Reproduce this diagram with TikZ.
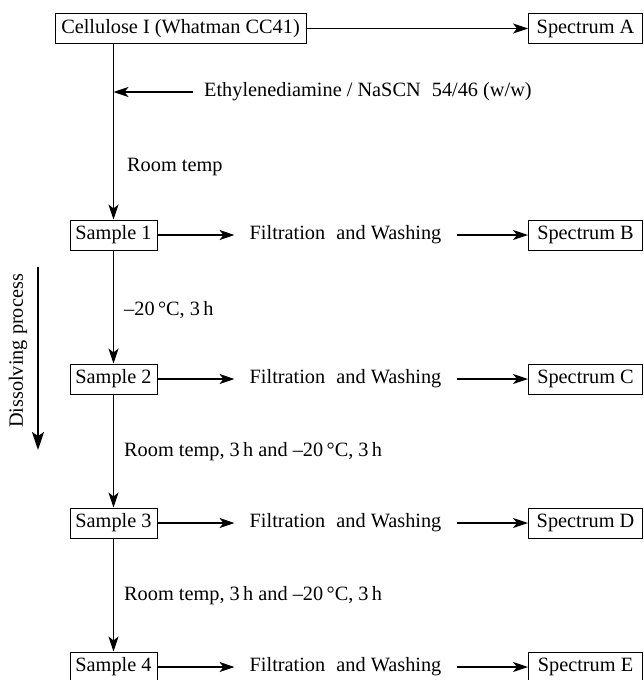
\documentclass[tikz,border=0pt]{standalone}
\usepackage{fontspec}
\setmainfont{Liberation Serif}
\usetikzlibrary{arrows.meta,positioning}

\begin{document}
\begin{tikzpicture}[x=1pt,y=-1pt,
      box_node/.style={
         draw=black,
         line width=1pt,
         inner sep=0pt,
         minimum height=30pt,
         font=\fontsize{20.3}{24}\selectfont},
      text_node/.style={
         anchor=west,
         inner sep=0pt,
         font=\fontsize{20.3}{24}\selectfont},
      step_node/.style={
         inner ysep=0pt,
         inner xsep=15pt,
         font=\fontsize{20.3}{24}\selectfont},
       arrow_black/.style={
        -{Stealth[length=15pt,width=10pt,inset=4pt]},
        line width=1.1pt,
        },
        arrow_bold/.style={
        -{Stealth[length=18pt,width=12pt,inset=4pt]},
        line width=2pt,
        }
]
      \useasboundingbox (0,0) rectangle (644,680);

      %start
      \node[box_node,minimum width=251pt] (c0) at (180.5,28.5) {Cellulose I (Whatman CC41)};
      \node[box_node,minimum width=114pt] (p0) at (585.5,28.5) {Spectrum A};
      \draw [arrow_black] (c0) -- (p0);

    \foreach \n/\y/\s in {% sample/row/spectrum
      1/235/B,
      2/379/C,
      3/523/D,
      4/667/E}
    {
      \node[box_node,minimum width=87pt] (s\n) at (113.5,\y) {Sample \n};
      \node[step_node] (f\n) at (345.5,\y) {Filtration\hspace{0.3em} and Washing};
      \node[box_node,minimum width=114pt] (p\n) at (585.5,\y) {Spectrum \s};
      \draw [arrow_black] (s\n) -- (f\n);
      \draw [arrow_black] (f\n) -- (p\n);
    }

      %conditions
      \node[text_node,inner xsep=11pt] (eth) at (193,92) {Ethylenediamine / NaSCN\hspace{0.3em} 54/46 (w/w)};
      \node[text_node] (t0) at (127,167) {Room temp};
      \node[text_node] (t1) at (124,310) {–20\,°C, 3\,h};
      \node[text_node] (t2) at (124,452) {Room temp, 3\,h and –20\,°C, 3\,h};
      \node[text_node] (t3) at (124,596) {Room temp, 3\,h and –20\,°C, 3\,h};

      \draw [arrow_black] (s1.north |- c0.south) -- (s1.north);
      \draw [arrow_black] (eth.west) -- (eth.west -| s1.north);

    \foreach \i/\j in {% start node/end node
      s1/s2,
      s2/s3,
      s3/s4}
 \draw [arrow_black] (\i) -- (\j);

      %process direction
      \node[rotate=90,inner sep=0pt,font=\fontsize{20.3}{24}\selectfont] (dp) at (18,351) {Dissolving process};
      \coordinate (dp_top) at (38,267);
      \coordinate (dp_end) at (38,450);
      \draw [arrow_bold] (dp_top) -- (dp_end);
\end{tikzpicture}
\end{document}
